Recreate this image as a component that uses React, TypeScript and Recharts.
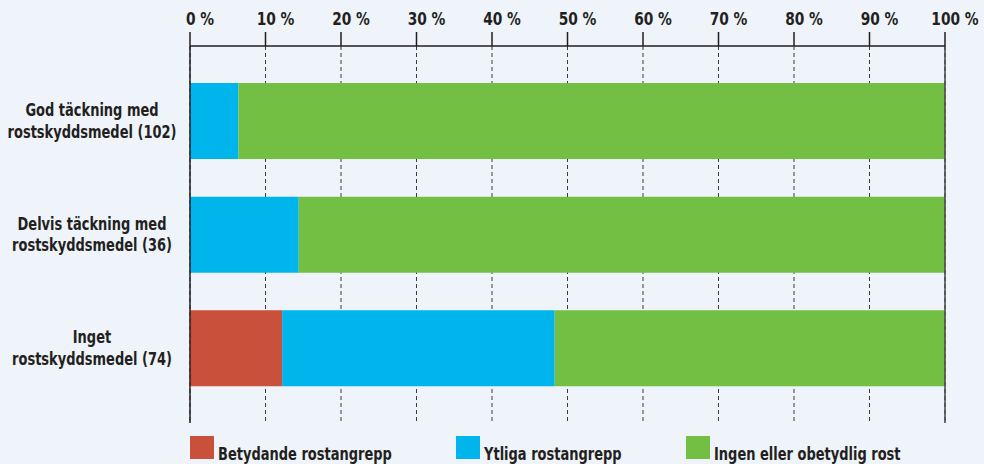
import React from 'react';
import { BarChart, Bar, XAxis, YAxis, CartesianGrid, ReferenceLine } from 'recharts';

// categories (two-line labels) and share of each rust class in %
const categories = [
  ['God täckning med', 'rostskyddsmedel (102)'],
  ['Delvis täckning med', 'rostskyddsmedel (36)'],
  ['Inget', 'rostskyddsmedel (74)'],
];
const betydande = [0, 0, 12.2];
const ytliga = [6.4, 14.4, 36.1];
const ingen = [93.6, 85.6, 51.7];

const seriesNames = ['Betydande rostangrepp', 'Ytliga rostangrepp', 'Ingen eller obetydlig rost'];
const seriesKeys = ['betydande', 'ytliga', 'ingen'];
const COLORS = ['#C9503A', '#00B5EC', '#72BF44'];
const xTicks = [0, 10, 20, 30, 40, 50, 60, 70, 80, 90, 100];

// no narrow font installed -> condensed font squeezed a bit more
const FONT = '"DejaVu Sans Condensed", "Liberation Sans", sans-serif';
const SQUEEZE = 0.85;
const TEXT = '#231F20';
const BG = '#EFF4FB';

const data = categories.map((c, i) => ({
  name: c.join('\n'),
  betydande: betydande[i],
  ytliga: ytliga[i],
  ingen: ingen[i],
}));

const TopTick = (props: any) => {
  const { x, payload } = props;
  return (
    <g transform={`translate(${x + 10},25) scale(${SQUEEZE},1)`}>
      <text x={0} y={0} textAnchor="middle" fontSize={18} fontWeight="bold" fontFamily={FONT} fill={TEXT}>
        {`${payload.value} %`}
      </text>
    </g>
  );
};

const CatTick = (props: any) => {
  const { y, payload } = props;
  const lines = String(payload.value).split('\n');
  return (
    <g transform={`translate(92,${y}) scale(${SQUEEZE},1)`}>
      <text textAnchor="middle" fontSize={17} fontWeight="bold" fontFamily={FONT} fill={TEXT}>
        <tspan x={0} y={-5}>{lines[0]}</tspan>
        <tspan x={0} y={17}>{lines[1]}</tspan>
      </text>
    </g>
  );
};

export default function App() {
  return (
    <div style={{ position: 'absolute', left: 0, top: 0, width: 984, height: 464, background: BG }}>
      <BarChart
        width={984}
        height={464}
        data={data}
        layout="vertical"
        margin={{ top: 0, right: 39, left: 0, bottom: 41 }}
      >
        <CartesianGrid horizontal={false} stroke="#3A3A3A" strokeDasharray="4 3" />
        <XAxis
          type="number"
          orientation="top"
          domain={[0, 100]}
          ticks={xTicks}
          interval={0}
          height={46}
          tickSize={14}
          tick={<TopTick />}
          axisLine={{ stroke: TEXT, strokeWidth: 1.5 }}
          tickLine={{ stroke: TEXT, strokeWidth: 1.5 }}
        />
        <XAxis
          xAxisId="bottom"
          type="number"
          orientation="bottom"
          domain={[0, 100]}
          height={0}
          tick={false}
          tickLine={false}
          axisLine={{ stroke: '#555', strokeWidth: 2 }}
        />
        <YAxis
          type="category"
          dataKey="name"
          width={190}
          padding={{ top: 18, bottom: 18 }}
          tickLine={false}
          tick={<CatTick />}
          axisLine={{ stroke: TEXT, strokeWidth: 1.5 }}
        />
        <ReferenceLine x={100} stroke="#444" strokeWidth={1.5} />
        {seriesKeys.map((k, i) => (
          <Bar key={k} dataKey={k} stackId="a" fill={COLORS[i]} barSize={76} isAnimationActive={false} />
        ))}
      </BarChart>
      <div style={{ position: 'absolute', top: 436, left: 0, width: 984, height: 24, fontFamily: FONT }}>
        {seriesNames.map((n, i) => (
          <div
            key={n}
            style={{ position: 'absolute', left: [190, 456, 686][i], top: 0, display: 'flex', alignItems: 'flex-end', height: 23 }}
          >
            <span style={{ display: 'inline-block', width: 24, height: 23, background: COLORS[i], flexShrink: 0 }} />
            <span
              style={{
                marginLeft: 4,
                fontSize: 17,
                fontWeight: 'bold',
                color: TEXT,
                lineHeight: '17px',
                position: 'relative',
                top: 4,
                whiteSpace: 'nowrap',
                display: 'inline-block',
                transform: `scaleX(${SQUEEZE})`,
                transformOrigin: 'left center',
              }}
            >
              {n}
            </span>
          </div>
        ))}
      </div>
    </div>
  );
}
